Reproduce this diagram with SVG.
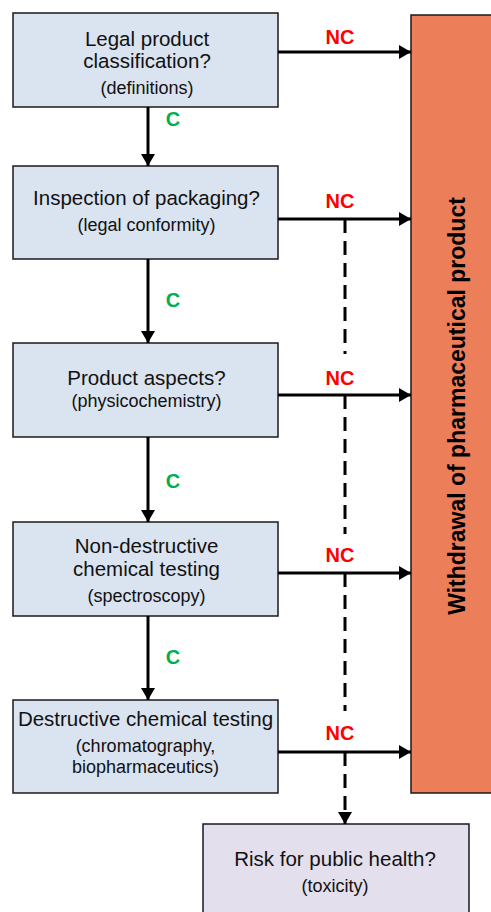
<svg xmlns="http://www.w3.org/2000/svg" width="491" height="912" viewBox="0 0 491 912">
<defs>
<marker id="ah" viewBox="0 0 12 14" refX="12" refY="7" markerWidth="12" markerHeight="14" markerUnits="userSpaceOnUse" orient="auto">
<path d="M0,0 L12,7 L0,14 Z" fill="#000"/>
</marker>
</defs>
<style>
.box{fill:#DAE3F0;stroke:#1a1a1a;stroke-width:1.5}
.risk{fill:#E4DFEC;stroke:#1a1a1a;stroke-width:1.5}
.wd{fill:#EC7E5A;stroke:#1a1a1a;stroke-width:1.5}
.t{font-family:"Liberation Sans",Arial,sans-serif;font-size:20.5px;fill:#111;text-anchor:middle}
.s{font-family:"Liberation Sans",Arial,sans-serif;font-size:18px;fill:#111;text-anchor:middle}
.nc{font-family:"Liberation Sans",Arial,sans-serif;font-size:20px;font-weight:bold;fill:#FF0000;text-anchor:middle}
.c{font-family:"Liberation Sans",Arial,sans-serif;font-size:20px;font-weight:bold;fill:#00B050;text-anchor:middle}
.ln{stroke:#000;stroke-width:3;fill:none}
.dl{stroke:#000;stroke-width:3;fill:none;stroke-dasharray:14 8}
.big{font-family:"Liberation Sans",Arial,sans-serif;font-size:23px;font-weight:bold;fill:#000;text-anchor:middle}
</style>

<g id="withdrawal">
<rect class="wd" x="411" y="15" width="100" height="778"/>
<text class="big" transform="translate(465,406) rotate(-90)">Withdrawal of pharmaceutical product</text>
</g>

<g id="n1">
<rect class="box" x="13" y="13" width="265" height="94"/>
<text class="t" x="147" y="46">Legal product</text>
<text class="t" x="147" y="68">classification?</text>
<text class="s" x="147" y="94">(definitions)</text>
</g>

<g id="n2">
<rect class="box" x="13" y="166" width="265" height="93"/>
<text class="t" x="146.5" y="205">Inspection of packaging?</text>
<text class="s" x="146.5" y="231">(legal conformity)</text>
</g>

<g id="n3">
<rect class="box" x="13" y="343" width="265" height="94"/>
<text class="t" x="146.5" y="385">Product aspects?</text>
<text class="s" x="146.5" y="407">(physicochemistry)</text>
</g>

<g id="n4">
<rect class="box" x="13" y="522" width="265" height="94"/>
<text class="t" x="146.5" y="553">Non-destructive</text>
<text class="t" x="146.5" y="576">chemical testing</text>
<text class="s" x="146.5" y="602">(spectroscopy)</text>
</g>

<g id="n5">
<rect class="box" x="13" y="700" width="265" height="93"/>
<text class="t" x="145.5" y="726">Destructive chemical testing</text>
<text class="s" x="145.5" y="752">(chromatography,</text>
<text class="s" x="145.5" y="773">biopharmaceutics)</text>
</g>

<g id="n6">
<rect class="risk" x="203" y="824" width="266" height="100"/>
<text class="t" x="335" y="866">Risk for public health?</text>
<text class="s" x="335" y="892">(toxicity)</text>
</g>

<g id="connectors">
<line class="ln" x1="148" y1="107" x2="148" y2="166" marker-end="url(#ah)"/>
<line class="ln" x1="148" y1="259" x2="148" y2="343" marker-end="url(#ah)"/>
<line class="ln" x1="148" y1="437" x2="148" y2="522" marker-end="url(#ah)"/>
<line class="ln" x1="148" y1="616" x2="148" y2="700" marker-end="url(#ah)"/>

<line class="ln" x1="278" y1="52" x2="411" y2="52" marker-end="url(#ah)"/>
<line class="ln" x1="278" y1="219" x2="411" y2="219" marker-end="url(#ah)"/>
<line class="ln" x1="278" y1="395" x2="411" y2="395" marker-end="url(#ah)"/>
<line class="ln" x1="278" y1="573" x2="411" y2="573" marker-end="url(#ah)"/>
<line class="ln" x1="278" y1="752" x2="411" y2="752" marker-end="url(#ah)"/>

<line class="dl" x1="345" y1="219" x2="345" y2="354"/>
<line class="dl" x1="345" y1="395" x2="345" y2="534"/>
<line class="dl" x1="345" y1="573" x2="345" y2="711"/>
<line class="dl" x1="345" y1="752" x2="345" y2="824" marker-end="url(#ah)"/>

<text class="c" x="173" y="126">C</text>
<text class="c" x="173" y="307">C</text>
<text class="c" x="173" y="488">C</text>
<text class="c" x="173" y="664">C</text>

<text class="nc" x="340" y="44">NC</text>
<text class="nc" x="340" y="208">NC</text>
<text class="nc" x="340" y="385">NC</text>
<text class="nc" x="340" y="562">NC</text>
<text class="nc" x="340" y="740">NC</text>
</g>
</svg>
